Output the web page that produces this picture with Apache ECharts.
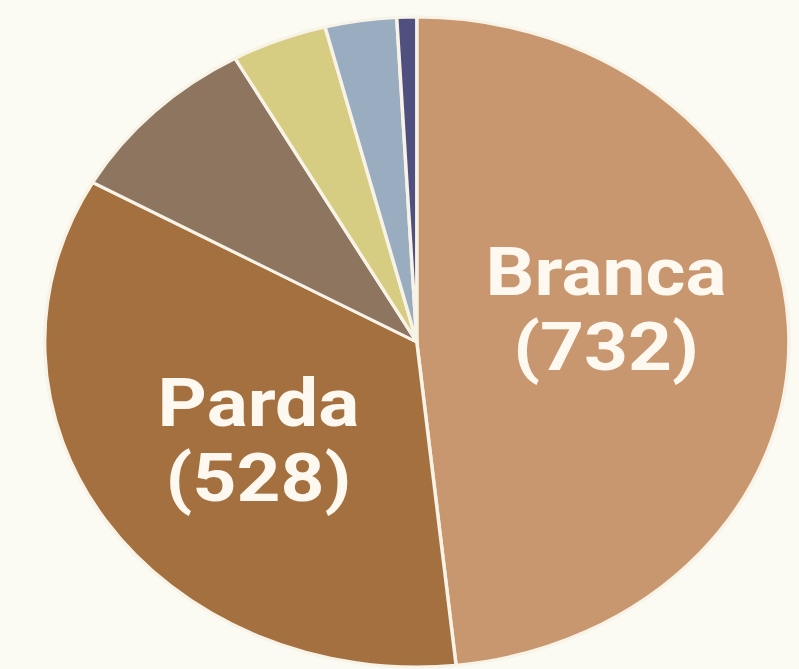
<!DOCTYPE html>
<html>
<head>
<meta charset="utf-8">
<script src="https://cdn.jsdelivr.net/npm/echarts@6/dist/echarts.min.js"></script>
<style>
  html, body { margin: 0; padding: 0; background: #fbfaf3; overflow: hidden; }
  #wrap { width: 799px; height: 669px; overflow: hidden; }
  #chart { width: 698px; height: 669px; transform: scaleX(1.145); transform-origin: 0 0; }
</style>
</head>
<body>
<div id="wrap"><div id="chart"></div></div>
<script>
const categories = ['Branca', 'Parda', 'Preta', 'Amarela', 'Indígena', 'Outra'];
const values = [732, 528, 132, 63, 47, 13];

const style = {
  colors: ['#c8976f', '#a5703f', '#8e7560', '#d6cc82', '#9aacc0', '#4f4f80'],
  showLabel: [true, true, false, false, false, false],
  labelShiftY: [-24, 8, 0, 0, 0, 0]
};

function fmt(p) {
  const s = style.labelShiftY[p.dataIndex];
  let txt = '{n|' + p.name + '}\n{n|(' + p.value + ')}';
  if (s < 0) txt = txt + '\n{s' + (-s * 2) + '| }';
  if (s > 0) txt = '{s' + (s * 2) + '| }\n' + txt;
  return txt;
}
const rich = {
  n: { color: '#fdf9f0', fontFamily: "Roboto, 'Liberation Sans', sans-serif", fontWeight: 'bold', fontSize: 67, lineHeight: 75 }
};
style.labelShiftY.forEach(s => {
  const h = Math.abs(s) * 2;
  if (h) rich['s' + h] = { fontSize: 1, lineHeight: h, height: h };
});

const chart = echarts.init(document.getElementById('chart'), null, { renderer: 'svg' });
chart.setOption({
  backgroundColor: '#fbfaf3',
  animation: false,
  series: [{
    type: 'pie',
    center: [364, 342],
    radius: [0, 325],
    startAngle: 90,
    clockwise: true,
    avoidLabelOverlap: false,
    itemStyle: { borderColor: '#f7f3e6', borderWidth: 3 },
    label: {
      show: true,
      position: 'inside',
      formatter: fmt,
      rich: rich
    },
    labelLine: { show: false },
    emphasis: { disabled: true },
    data: categories.map((c, i) => ({
      name: c,
      value: values[i],
      itemStyle: { color: style.colors[i] },
      label: { show: style.showLabel[i] }
    }))
  }]
});
</script>
</body>
</html>
